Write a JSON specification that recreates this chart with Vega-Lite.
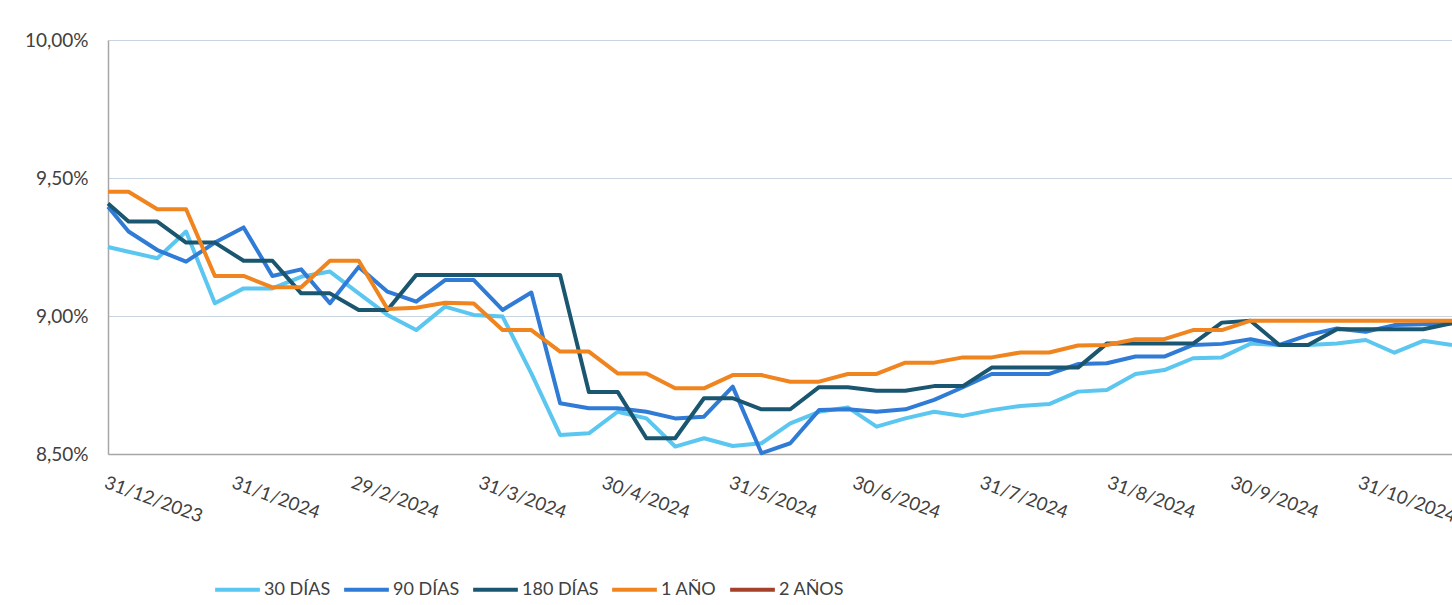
{
  "$schema": "https://vega.github.io/schema/vega-lite/v6.json",
  "autosize": {"type": "none"},
  "padding": {"left": 108, "top": 40, "right": 0, "bottom": 151},
  "width": 1344,
  "height": 414,
  "background": "white",
  "config": {"view": {"stroke": null}, "font": "Lato"},
  "data": {"values": [
    {"d":"2023-12-31","s":"30 DÍAS","v":9.25},
    {"d":"2024-01-05","s":"30 DÍAS","v":9.233},
    {"d":"2024-01-12","s":"30 DÍAS","v":9.209},
    {"d":"2024-01-19","s":"30 DÍAS","v":9.306},
    {"d":"2024-01-26","s":"30 DÍAS","v":9.046},
    {"d":"2024-02-02","s":"30 DÍAS","v":9.10},
    {"d":"2024-02-09","s":"30 DÍAS","v":9.10},
    {"d":"2024-02-16","s":"30 DÍAS","v":9.142},
    {"d":"2024-02-23","s":"30 DÍAS","v":9.161},
    {"d":"2024-03-01","s":"30 DÍAS","v":9.082},
    {"d":"2024-03-08","s":"30 DÍAS","v":9.004},
    {"d":"2024-03-15","s":"30 DÍAS","v":8.949},
    {"d":"2024-03-22","s":"30 DÍAS","v":9.034},
    {"d":"2024-03-29","s":"30 DÍAS","v":9.004},
    {"d":"2024-04-05","s":"30 DÍAS","v":8.998},
    {"d":"2024-04-12","s":"30 DÍAS","v":8.792},
    {"d":"2024-04-19","s":"30 DÍAS","v":8.569},
    {"d":"2024-04-26","s":"30 DÍAS","v":8.575},
    {"d":"2024-05-03","s":"30 DÍAS","v":8.653},
    {"d":"2024-05-10","s":"30 DÍAS","v":8.629},
    {"d":"2024-05-17","s":"30 DÍAS","v":8.527},
    {"d":"2024-05-24","s":"30 DÍAS","v":8.557},
    {"d":"2024-05-31","s":"30 DÍAS","v":8.529},
    {"d":"2024-06-07","s":"30 DÍAS","v":8.539},
    {"d":"2024-06-14","s":"30 DÍAS","v":8.611},
    {"d":"2024-06-21","s":"30 DÍAS","v":8.653},
    {"d":"2024-06-28","s":"30 DÍAS","v":8.669},
    {"d":"2024-07-05","s":"30 DÍAS","v":8.599},
    {"d":"2024-07-12","s":"30 DÍAS","v":8.629},
    {"d":"2024-07-19","s":"30 DÍAS","v":8.653},
    {"d":"2024-07-26","s":"30 DÍAS","v":8.638},
    {"d":"2024-08-02","s":"30 DÍAS","v":8.659},
    {"d":"2024-08-09","s":"30 DÍAS","v":8.674},
    {"d":"2024-08-16","s":"30 DÍAS","v":8.681},
    {"d":"2024-08-23","s":"30 DÍAS","v":8.726},
    {"d":"2024-08-30","s":"30 DÍAS","v":8.732},
    {"d":"2024-09-06","s":"30 DÍAS","v":8.79},
    {"d":"2024-09-13","s":"30 DÍAS","v":8.804},
    {"d":"2024-09-20","s":"30 DÍAS","v":8.847},
    {"d":"2024-09-27","s":"30 DÍAS","v":8.85},
    {"d":"2024-10-04","s":"30 DÍAS","v":8.90},
    {"d":"2024-10-11","s":"30 DÍAS","v":8.895},
    {"d":"2024-10-18","s":"30 DÍAS","v":8.895},
    {"d":"2024-10-25","s":"30 DÍAS","v":8.90},
    {"d":"2024-11-01","s":"30 DÍAS","v":8.913},
    {"d":"2024-11-08","s":"30 DÍAS","v":8.867},
    {"d":"2024-11-15","s":"30 DÍAS","v":8.91},
    {"d":"2024-11-22","s":"30 DÍAS","v":8.895},

    {"d":"2023-12-31","s":"90 DÍAS","v":9.396},
    {"d":"2024-01-05","s":"90 DÍAS","v":9.306},
    {"d":"2024-01-12","s":"90 DÍAS","v":9.239},
    {"d":"2024-01-19","s":"90 DÍAS","v":9.197},
    {"d":"2024-01-26","s":"90 DÍAS","v":9.266},
    {"d":"2024-02-02","s":"90 DÍAS","v":9.321},
    {"d":"2024-02-09","s":"90 DÍAS","v":9.145},
    {"d":"2024-02-16","s":"90 DÍAS","v":9.169},
    {"d":"2024-02-23","s":"90 DÍAS","v":9.046},
    {"d":"2024-03-01","s":"90 DÍAS","v":9.178},
    {"d":"2024-03-08","s":"90 DÍAS","v":9.088},
    {"d":"2024-03-15","s":"90 DÍAS","v":9.052},
    {"d":"2024-03-22","s":"90 DÍAS","v":9.13},
    {"d":"2024-03-29","s":"90 DÍAS","v":9.13},
    {"d":"2024-04-05","s":"90 DÍAS","v":9.022},
    {"d":"2024-04-12","s":"90 DÍAS","v":9.085},
    {"d":"2024-04-19","s":"90 DÍAS","v":8.684},
    {"d":"2024-04-26","s":"90 DÍAS","v":8.666},
    {"d":"2024-05-03","s":"90 DÍAS","v":8.666},
    {"d":"2024-05-10","s":"90 DÍAS","v":8.653},
    {"d":"2024-05-17","s":"90 DÍAS","v":8.629},
    {"d":"2024-05-24","s":"90 DÍAS","v":8.635},
    {"d":"2024-05-31","s":"90 DÍAS","v":8.744},
    {"d":"2024-06-07","s":"90 DÍAS","v":8.503},
    {"d":"2024-06-14","s":"90 DÍAS","v":8.539},
    {"d":"2024-06-21","s":"90 DÍAS","v":8.659},
    {"d":"2024-06-28","s":"90 DÍAS","v":8.662},
    {"d":"2024-07-05","s":"90 DÍAS","v":8.653},
    {"d":"2024-07-12","s":"90 DÍAS","v":8.662},
    {"d":"2024-07-19","s":"90 DÍAS","v":8.696},
    {"d":"2024-07-26","s":"90 DÍAS","v":8.742},
    {"d":"2024-08-02","s":"90 DÍAS","v":8.79},
    {"d":"2024-08-09","s":"90 DÍAS","v":8.79},
    {"d":"2024-08-16","s":"90 DÍAS","v":8.79},
    {"d":"2024-08-23","s":"90 DÍAS","v":8.826},
    {"d":"2024-08-30","s":"90 DÍAS","v":8.829},
    {"d":"2024-09-06","s":"90 DÍAS","v":8.853},
    {"d":"2024-09-13","s":"90 DÍAS","v":8.853},
    {"d":"2024-09-20","s":"90 DÍAS","v":8.895},
    {"d":"2024-09-27","s":"90 DÍAS","v":8.899},
    {"d":"2024-10-04","s":"90 DÍAS","v":8.916},
    {"d":"2024-10-11","s":"90 DÍAS","v":8.895},
    {"d":"2024-10-18","s":"90 DÍAS","v":8.931},
    {"d":"2024-10-25","s":"90 DÍAS","v":8.955},
    {"d":"2024-11-01","s":"90 DÍAS","v":8.943},
    {"d":"2024-11-08","s":"90 DÍAS","v":8.967},
    {"d":"2024-11-15","s":"90 DÍAS","v":8.97},
    {"d":"2024-11-22","s":"90 DÍAS","v":8.974},

    {"d":"2023-12-31","s":"180 DÍAS","v":9.408},
    {"d":"2024-01-05","s":"180 DÍAS","v":9.342},
    {"d":"2024-01-12","s":"180 DÍAS","v":9.342},
    {"d":"2024-01-19","s":"180 DÍAS","v":9.266},
    {"d":"2024-01-26","s":"180 DÍAS","v":9.266},
    {"d":"2024-02-02","s":"180 DÍAS","v":9.20},
    {"d":"2024-02-09","s":"180 DÍAS","v":9.20},
    {"d":"2024-02-16","s":"180 DÍAS","v":9.082},
    {"d":"2024-02-23","s":"180 DÍAS","v":9.082},
    {"d":"2024-03-01","s":"180 DÍAS","v":9.022},
    {"d":"2024-03-08","s":"180 DÍAS","v":9.022},
    {"d":"2024-03-15","s":"180 DÍAS","v":9.149},
    {"d":"2024-03-22","s":"180 DÍAS","v":9.149},
    {"d":"2024-03-29","s":"180 DÍAS","v":9.149},
    {"d":"2024-04-05","s":"180 DÍAS","v":9.149},
    {"d":"2024-04-12","s":"180 DÍAS","v":9.149},
    {"d":"2024-04-19","s":"180 DÍAS","v":9.149},
    {"d":"2024-04-26","s":"180 DÍAS","v":8.725},
    {"d":"2024-05-03","s":"180 DÍAS","v":8.725},
    {"d":"2024-05-10","s":"180 DÍAS","v":8.557},
    {"d":"2024-05-17","s":"180 DÍAS","v":8.557},
    {"d":"2024-05-24","s":"180 DÍAS","v":8.702},
    {"d":"2024-05-31","s":"180 DÍAS","v":8.702},
    {"d":"2024-06-07","s":"180 DÍAS","v":8.662},
    {"d":"2024-06-14","s":"180 DÍAS","v":8.662},
    {"d":"2024-06-21","s":"180 DÍAS","v":8.742},
    {"d":"2024-06-28","s":"180 DÍAS","v":8.742},
    {"d":"2024-07-05","s":"180 DÍAS","v":8.729},
    {"d":"2024-07-12","s":"180 DÍAS","v":8.729},
    {"d":"2024-07-19","s":"180 DÍAS","v":8.746},
    {"d":"2024-07-26","s":"180 DÍAS","v":8.746},
    {"d":"2024-08-02","s":"180 DÍAS","v":8.813},
    {"d":"2024-08-09","s":"180 DÍAS","v":8.813},
    {"d":"2024-08-16","s":"180 DÍAS","v":8.813},
    {"d":"2024-08-23","s":"180 DÍAS","v":8.813},
    {"d":"2024-08-30","s":"180 DÍAS","v":8.90},
    {"d":"2024-09-06","s":"180 DÍAS","v":8.90},
    {"d":"2024-09-13","s":"180 DÍAS","v":8.90},
    {"d":"2024-09-20","s":"180 DÍAS","v":8.90},
    {"d":"2024-09-27","s":"180 DÍAS","v":8.976},
    {"d":"2024-10-04","s":"180 DÍAS","v":8.983},
    {"d":"2024-10-11","s":"180 DÍAS","v":8.895},
    {"d":"2024-10-18","s":"180 DÍAS","v":8.895},
    {"d":"2024-10-25","s":"180 DÍAS","v":8.952},
    {"d":"2024-11-01","s":"180 DÍAS","v":8.952},
    {"d":"2024-11-08","s":"180 DÍAS","v":8.952},
    {"d":"2024-11-15","s":"180 DÍAS","v":8.952},
    {"d":"2024-11-22","s":"180 DÍAS","v":8.974},

    {"d":"2023-12-31","s":"1 AÑO","v":9.45},
    {"d":"2024-01-05","s":"1 AÑO","v":9.45},
    {"d":"2024-01-12","s":"1 AÑO","v":9.387},
    {"d":"2024-01-19","s":"1 AÑO","v":9.387},
    {"d":"2024-01-26","s":"1 AÑO","v":9.145},
    {"d":"2024-02-02","s":"1 AÑO","v":9.145},
    {"d":"2024-02-09","s":"1 AÑO","v":9.104},
    {"d":"2024-02-16","s":"1 AÑO","v":9.104},
    {"d":"2024-02-23","s":"1 AÑO","v":9.20},
    {"d":"2024-03-01","s":"1 AÑO","v":9.20},
    {"d":"2024-03-08","s":"1 AÑO","v":9.025},
    {"d":"2024-03-15","s":"1 AÑO","v":9.03},
    {"d":"2024-03-22","s":"1 AÑO","v":9.048},
    {"d":"2024-03-29","s":"1 AÑO","v":9.045},
    {"d":"2024-04-05","s":"1 AÑO","v":8.949},
    {"d":"2024-04-12","s":"1 AÑO","v":8.949},
    {"d":"2024-04-19","s":"1 AÑO","v":8.871},
    {"d":"2024-04-26","s":"1 AÑO","v":8.871},
    {"d":"2024-05-03","s":"1 AÑO","v":8.792},
    {"d":"2024-05-10","s":"1 AÑO","v":8.792},
    {"d":"2024-05-17","s":"1 AÑO","v":8.738},
    {"d":"2024-05-24","s":"1 AÑO","v":8.738},
    {"d":"2024-05-31","s":"1 AÑO","v":8.786},
    {"d":"2024-06-07","s":"1 AÑO","v":8.786},
    {"d":"2024-06-14","s":"1 AÑO","v":8.762},
    {"d":"2024-06-21","s":"1 AÑO","v":8.762},
    {"d":"2024-06-28","s":"1 AÑO","v":8.79},
    {"d":"2024-07-05","s":"1 AÑO","v":8.79},
    {"d":"2024-07-12","s":"1 AÑO","v":8.831},
    {"d":"2024-07-19","s":"1 AÑO","v":8.831},
    {"d":"2024-07-26","s":"1 AÑO","v":8.85},
    {"d":"2024-08-02","s":"1 AÑO","v":8.85},
    {"d":"2024-08-09","s":"1 AÑO","v":8.868},
    {"d":"2024-08-16","s":"1 AÑO","v":8.868},
    {"d":"2024-08-23","s":"1 AÑO","v":8.893},
    {"d":"2024-08-30","s":"1 AÑO","v":8.895},
    {"d":"2024-09-06","s":"1 AÑO","v":8.916},
    {"d":"2024-09-13","s":"1 AÑO","v":8.916},
    {"d":"2024-09-20","s":"1 AÑO","v":8.949},
    {"d":"2024-09-27","s":"1 AÑO","v":8.949},
    {"d":"2024-10-04","s":"1 AÑO","v":8.983},
    {"d":"2024-10-11","s":"1 AÑO","v":8.983},
    {"d":"2024-10-18","s":"1 AÑO","v":8.983},
    {"d":"2024-10-25","s":"1 AÑO","v":8.983},
    {"d":"2024-11-01","s":"1 AÑO","v":8.983},
    {"d":"2024-11-08","s":"1 AÑO","v":8.983},
    {"d":"2024-11-15","s":"1 AÑO","v":8.983},
    {"d":"2024-11-22","s":"1 AÑO","v":8.983}
  ]},
  "mark": {"type": "line", "strokeWidth": 4, "strokeJoin": "round", "clip": false},
  "encoding": {
    "x": {
      "field": "d", "type": "temporal",
      "scale": {"type": "utc", "domain": [
        {"year": 2023, "month": 12, "date": 31, "utc": true},
        {"year": 2024, "month": 11, "date": 22, "utc": true}
      ]},
      "axis": {
        "title": null,
        "values": [
          {"year": 2023, "month": 12, "date": 31, "utc": true},
          {"year": 2024, "month": 1, "date": 31, "utc": true},
          {"year": 2024, "month": 2, "date": 29, "utc": true},
          {"year": 2024, "month": 3, "date": 31, "utc": true},
          {"year": 2024, "month": 4, "date": 30, "utc": true},
          {"year": 2024, "month": 5, "date": 31, "utc": true},
          {"year": 2024, "month": 6, "date": 30, "utc": true},
          {"year": 2024, "month": 7, "date": 31, "utc": true},
          {"year": 2024, "month": 8, "date": 31, "utc": true},
          {"year": 2024, "month": 9, "date": 30, "utc": true},
          {"year": 2024, "month": 10, "date": 31, "utc": true}
        ],
        "labelExpr": "utcFormat(datum.value, '%-d/%-m/%Y')",
        "labelAngle": 20,
        "labelAlign": "left",
        "labelBaseline": "top",
        "labelPadding": 19,
        "labelFont": "Lato",
        "labelFontSize": 18.5,
        "labelColor": "#404040",
        "labelOverlap": false,
        "labelFlush": false,
        "labelBound": false,
        "ticks": false,
        "grid": false,
        "domainColor": "#a6a6a6",
        "domainWidth": 1.5
      }
    },
    "y": {
      "field": "v", "type": "quantitative",
      "scale": {"domain": [8.5, 10], "nice": false, "zero": false},
      "axis": {
        "title": null,
        "values": [8.5, 9, 9.5, 10],
        "labelExpr": "replace(format(datum.value, '.2f'), '.', ',') + '%'",
        "labelFont": "Lato",
        "labelFontSize": 19,
        "labelColor": "#404040",
        "labelPadding": 20,
        "ticks": false,
        "grid": true,
        "gridColor": "#c9d4e1",
        "gridWidth": 1.2,
        "domainColor": "#a6a6a6",
        "domainWidth": 1.5
      }
    },
    "color": {
      "field": "s", "type": "nominal",
      "scale": {
        "domain": ["30 DÍAS", "90 DÍAS", "180 DÍAS", "1 AÑO", "2 AÑOS"],
        "range": ["#5bc6ef", "#2f7bd6", "#1b5670", "#f0841f", "#a3412b"]
      },
      "legend": {
        "title": null,
        "orient": "none",
        "legendX": 105,
        "legendY": 525,
        "direction": "horizontal",
        "columns": 5,
        "symbolType": "stroke",
        "symbolSize": 2000,
        "symbolStrokeWidth": 4,
        "labelFont": "Lato",
        "labelFontSize": 18,
        "labelColor": "#404040",
        "labelOffset": 2,
        "columnPadding": 5
      }
    }
  }
}
